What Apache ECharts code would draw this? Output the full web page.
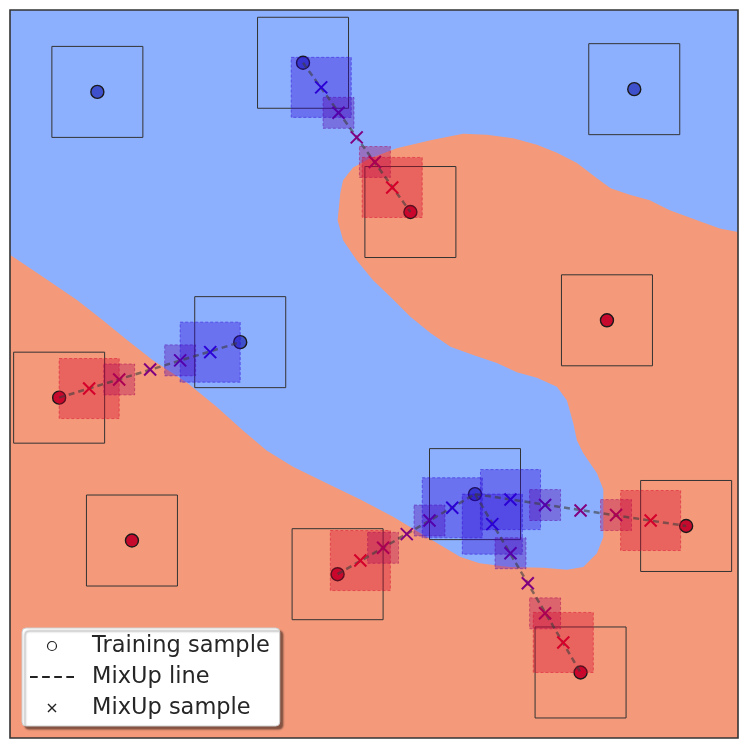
<!DOCTYPE html>
<html><head><meta charset="utf-8">
<script src="https://cdn.jsdelivr.net/npm/echarts@6/dist/echarts.min.js"></script>
<style>html,body{margin:0;padding:0;background:#fff}#c{width:748px;height:748px}</style>
</head><body><div id="c"></div>
<script>
// Training samples (class 0 = blue, class 1 = red)
const trainX = [0.96, 3.22, 6.86, 2.53, 5.11, 4.40, 6.56, 0.54, 1.34, 3.60, 7.43, 6.27];
const trainY = [7.10, 7.42, 7.13, 4.35, 2.68, 5.78, 4.59, 3.74, 2.17, 1.80, 2.33, 0.72];
const trainClass = [0, 0, 0, 0, 0, 1, 1, 1, 1, 1, 1, 1];
const trainBoxSide = 1;

// MixUp pairs (indices into training arrays)
const pairFrom = [1, 7, 9, 4, 4];
const pairTo   = [5, 3, 4, 10, 11];

// MixUp samples: position and share of the red class
const mixX = [3.42, 3.61, 3.81, 4.01, 4.20, 0.87, 1.20, 1.54, 1.87, 2.20, 3.85, 4.10, 4.36, 4.61, 4.86, 5.50, 5.88, 6.27, 6.66, 7.04, 5.30, 5.50, 5.69, 5.88, 6.08];
const mixY = [7.15, 6.87, 6.60, 6.33, 6.05, 3.84, 3.94, 4.05, 4.15, 4.24, 1.95, 2.09, 2.24, 2.39, 2.53, 2.62, 2.56, 2.50, 2.45, 2.39, 2.35, 2.03, 1.70, 1.37, 1.05];
const mixRed = [0.17, 0.33, 0.5, 0.67, 0.83, 0.83, 0.67, 0.5, 0.33, 0.17, 0.83, 0.67, 0.5, 0.33, 0.17, 0.17, 0.33, 0.5, 0.67, 0.83, 0.17, 0.33, 0.5, 0.67, 0.83];

// Decision region of the red class (polygon outline)
const redRegion = [
  [8, 0], [0, 0], [0, 5.31], [0.36, 5.07], [0.74, 4.81], [1.02, 4.59], [1.29, 4.37], [1.57, 4.15],
  [1.95, 3.90], [2.27, 3.64], [2.56, 3.38], [2.82, 3.16], [3.11, 2.98], [3.48, 2.80], [3.85, 2.62],
  [4.21, 2.43], [4.58, 2.21], [4.95, 1.99], [5.16, 1.92], [5.49, 1.88], [5.86, 1.87], [6.12, 1.85],
  [6.30, 1.88], [6.45, 2.03], [6.52, 2.21], [6.52, 2.54], [6.52, 2.73], [6.45, 2.91], [6.30, 3.13],
  [6.23, 3.27], [6.19, 3.46], [6.12, 3.71], [6.01, 3.86], [5.79, 3.96], [5.57, 4.02], [5.35, 4.12],
  [5.09, 4.21], [4.84, 4.30], [4.62, 4.45], [4.40, 4.63], [4.18, 4.85], [3.99, 5.03], [3.81, 5.25],
  [3.66, 5.47], [3.60, 5.69], [3.63, 5.99], [3.66, 6.13], [3.77, 6.27], [3.96, 6.37], [4.25, 6.48],
  [4.62, 6.57], [4.98, 6.64], [5.24, 6.63], [5.53, 6.59], [5.79, 6.52], [6.01, 6.43], [6.23, 6.32],
  [6.45, 6.15], [6.60, 6.04], [6.81, 5.97], [7.03, 5.91], [7.25, 5.80], [7.55, 5.69], [7.80, 5.60], [8, 5.56]
];

const legendNames = ['Training sample', 'MixUp line', 'MixUp sample'];

function mixColor(r, a) {
  return 'rgba(' + Math.round(255 * r) + ',0,' + Math.round(255 * (1 - r)) + ',' + a + ')';
}

const chart = echarts.init(document.getElementById('c'), null, {renderer: 'canvas'});

const trainData = trainX.map((x, i) => ({
  value: [x, trainY[i]],
  itemStyle: {color: trainClass[i] === 0 ? '#3f50cc' : '#c60a2e'}
}));
const mixData = mixX.map((x, i) => [x, mixY[i], mixRed[i]]);
const pairData = pairFrom.map((a, i) => [trainX[a], trainY[a], trainX[pairTo[i]], trainY[pairTo[i]]]);

chart.setOption({
  animation: false,
  grid: {left: 10, top: 10, width: 728, height: 728, show: true, backgroundColor: '#8db0fe', borderWidth: 0},
  xAxis: {type: 'value', min: 0, max: 8, show: false},
  yAxis: {type: 'value', min: 0, max: 8, show: false},
  legend: {
    orient: 'vertical', left: 22, top: 628,
    padding: [6, 10, 6, 8], itemGap: 7, itemWidth: 44, itemHeight: 9,
    backgroundColor: '#ffffff', borderColor: '#cccccc', borderWidth: 1, borderRadius: 4,
    shadowBlur: 2, shadowColor: 'rgba(0,0,0,0.45)', shadowOffsetX: 3, shadowOffsetY: 3,
    selectedMode: false,
    textStyle: {fontFamily: 'DejaVu Sans', fontSize: 22.5, color: '#262626', lineHeight: 24, padding: [0, 0, 0, 13]},
    data: [
      {name: legendNames[0], icon: 'circle', itemStyle: {color: 'rgba(0,0,0,0)', borderColor: '#222', borderWidth: 1.2}},
      {name: legendNames[1], icon: 'path://M0,0h7v2h-7z M11,0h7v2h-7z M22,0h7v2h-7z M33,0h7v2h-7z', itemStyle: {color: '#222', borderWidth: 0}},
      {name: legendNames[2], icon: 'path://M0,1.1L1.1,0L10,8.9L8.9,10Z M8.9,0L10,1.1L1.1,10L0,8.9Z', itemStyle: {color: '#222', borderWidth: 0}}
    ]
  },
  graphic: [{
    type: 'rect', z: 100, silent: true,
    shape: {x: 10, y: 10, width: 728, height: 728},
    style: {fill: 'none', stroke: '#333', lineWidth: 1.6}
  }],
  series: [
    {
      type: 'custom', name: 'region', z: 1, silent: true, data: [[0, 0]],
      renderItem: (params, api) => ({
        type: 'polygon',
        shape: {points: redRegion.map(p => api.coord(p))},
        style: {fill: '#f49a7b'}
      })
    },
    {
      type: 'custom', name: 'boxes', z: 2, silent: true, data: trainX.map((x, i) => [x, trainY[i]]),
      renderItem: (params, api) => {
        const c = api.coord([api.value(0), api.value(1)]);
        const s = api.size([trainBoxSide, trainBoxSide]);
        return {type: 'rect', shape: {x: c[0] - s[0] / 2, y: c[1] - s[1] / 2, width: s[0], height: s[1]},
          style: {fill: 'none', stroke: '#333', lineWidth: 1}};
      }
    },
    {
      type: 'scatter', name: legendNames[0], z: 3, data: trainData, symbol: 'circle', symbolSize: 13,
      itemStyle: {borderColor: '#1a1a1a', borderWidth: 1.4, opacity: 1}
    },
    {
      type: 'custom', name: 'mixBoxes', z: 4, silent: true, data: mixData,
      renderItem: (params, api) => {
        const r = api.value(2);
        const side = Math.abs(1 - 2 * r);
        if (side < 0.02) return null;
        const c = api.coord([api.value(0), api.value(1)]);
        const s = api.size([side, side]);
        return {type: 'rect', shape: {x: c[0] - s[0] / 2, y: c[1] - s[1] / 2, width: s[0], height: s[1]},
          style: {fill: mixColor(r, 0.35), stroke: mixColor(r, 0.45), lineWidth: 1, lineDash: [3, 2]}};
      }
    },
    {
      type: 'custom', name: legendNames[1], z: 5, silent: true, data: pairData,
      itemStyle: {color: '#222'},
      renderItem: (params, api) => {
        const a = api.coord([api.value(0), api.value(1)]);
        const b = api.coord([api.value(2), api.value(3)]);
        return {type: 'line', shape: {x1: a[0], y1: a[1], x2: b[0], y2: b[1]},
          style: {stroke: 'rgba(60,60,60,0.6)', lineWidth: 2.5, lineDash: [6, 4]}};
      }
    },
    {
      type: 'custom', name: legendNames[2], z: 6, silent: true, data: mixData,
      itemStyle: {color: '#222'},
      renderItem: (params, api) => {
        const c = api.coord([api.value(0), api.value(1)]);
        const col = mixColor(api.value(2), 1);
        const h = 6;
        return {type: 'group', children: [
          {type: 'line', shape: {x1: c[0] - h, y1: c[1] - h, x2: c[0] + h, y2: c[1] + h}, style: {stroke: col, lineWidth: 2}},
          {type: 'line', shape: {x1: c[0] - h, y1: c[1] + h, x2: c[0] + h, y2: c[1] - h}, style: {stroke: col, lineWidth: 2}}
        ]};
      }
    }
  ]
});
</script>
</body></html>
